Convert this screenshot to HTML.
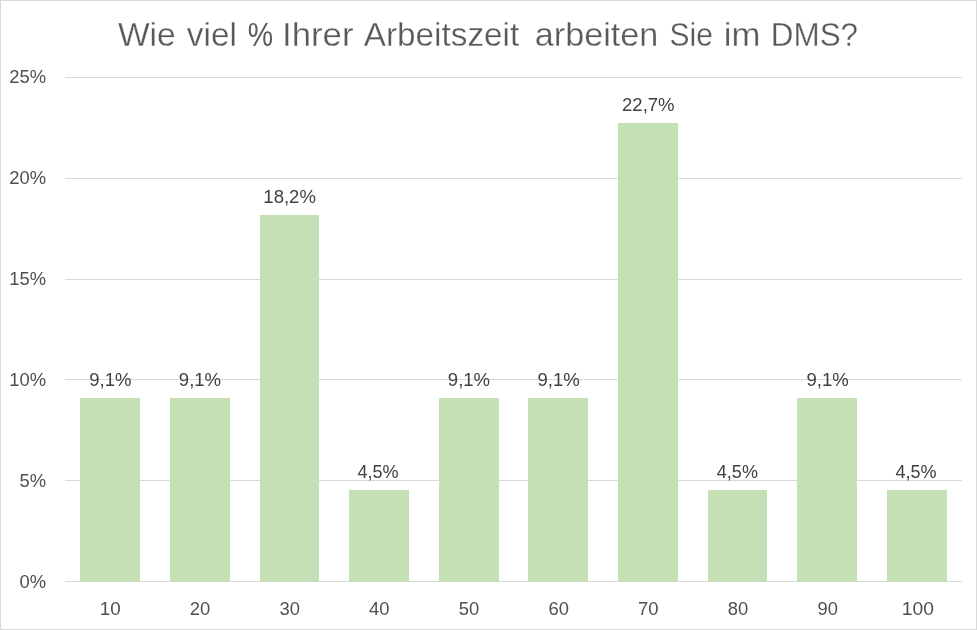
<!DOCTYPE html>
<html lang="de"><head><meta charset="utf-8"><title>Wie viel % Ihrer Arbeitszeit arbeiten Sie im DMS?</title>
<style>html,body{margin:0;padding:0;background:#fff;overflow:hidden}svg{display:block}text{font-family:"Liberation Sans",sans-serif}</style></head><body>
<svg width="977" height="630" viewBox="0 0 977 630">
<rect x="0" y="0" width="977" height="630" fill="#ffffff"/>
<g shape-rendering="crispEdges">
<rect x="65" y="77" width="897" height="1" fill="#d9d9d9"/>
<rect x="65" y="178" width="897" height="1" fill="#d9d9d9"/>
<rect x="65" y="279" width="897" height="1" fill="#d9d9d9"/>
<rect x="65" y="379" width="897" height="1" fill="#d9d9d9"/>
<rect x="65" y="480" width="897" height="1" fill="#d9d9d9"/>
<rect x="65" y="581" width="897" height="1" fill="#d9d9d9"/>
<rect x="80" y="398" width="60" height="183" fill="#c5e0b4"/>
<rect x="80" y="581" width="60" height="1" fill="#cadcbf"/>
<rect x="170" y="398" width="60" height="183" fill="#c5e0b4"/>
<rect x="170" y="581" width="60" height="1" fill="#cadcbf"/>
<rect x="260" y="215" width="59" height="366" fill="#c5e0b4"/>
<rect x="260" y="581" width="59" height="1" fill="#cadcbf"/>
<rect x="349" y="490" width="60" height="91" fill="#c5e0b4"/>
<rect x="349" y="581" width="60" height="1" fill="#cadcbf"/>
<rect x="439" y="398" width="60" height="183" fill="#c5e0b4"/>
<rect x="439" y="581" width="60" height="1" fill="#cadcbf"/>
<rect x="528" y="398" width="60" height="183" fill="#c5e0b4"/>
<rect x="528" y="581" width="60" height="1" fill="#cadcbf"/>
<rect x="618" y="123" width="60" height="458" fill="#c5e0b4"/>
<rect x="618" y="581" width="60" height="1" fill="#cadcbf"/>
<rect x="708" y="490" width="59" height="91" fill="#c5e0b4"/>
<rect x="708" y="581" width="59" height="1" fill="#cadcbf"/>
<rect x="797" y="398" width="60" height="183" fill="#c5e0b4"/>
<rect x="797" y="581" width="60" height="1" fill="#cadcbf"/>
<rect x="887" y="490" width="60" height="91" fill="#c5e0b4"/>
<rect x="887" y="581" width="60" height="1" fill="#cadcbf"/>
</g>
<text transform="translate(46.0,82.80) scale(1.045,1)" text-anchor="end" font-size="17.6" fill="#505050">25%</text>
<text transform="translate(46.0,183.80) scale(1.045,1)" text-anchor="end" font-size="17.6" fill="#505050">20%</text>
<text transform="translate(46.0,284.80) scale(1.045,1)" text-anchor="end" font-size="17.6" fill="#505050">15%</text>
<text transform="translate(46.0,385.80) scale(1.045,1)" text-anchor="end" font-size="17.6" fill="#505050">10%</text>
<text transform="translate(46.0,486.80) scale(1.045,1)" text-anchor="end" font-size="17.6" fill="#505050">5%</text>
<text transform="translate(46.0,587.80) scale(1.045,1)" text-anchor="end" font-size="17.6" fill="#505050">0%</text>
<text transform="translate(110.30,615.0) scale(1.07,1)" text-anchor="middle" font-size="17.6" fill="#505050">10</text>
<text transform="translate(199.97,615.0) scale(1.045,1)" text-anchor="middle" font-size="17.6" fill="#505050">20</text>
<text transform="translate(289.63,615.0) scale(1.045,1)" text-anchor="middle" font-size="17.6" fill="#505050">30</text>
<text transform="translate(379.30,615.0) scale(1.045,1)" text-anchor="middle" font-size="17.6" fill="#505050">40</text>
<text transform="translate(468.97,615.0) scale(1.045,1)" text-anchor="middle" font-size="17.6" fill="#505050">50</text>
<text transform="translate(558.63,615.0) scale(1.045,1)" text-anchor="middle" font-size="17.6" fill="#505050">60</text>
<text transform="translate(648.30,615.0) scale(1.045,1)" text-anchor="middle" font-size="17.6" fill="#505050">70</text>
<text transform="translate(737.97,615.0) scale(1.045,1)" text-anchor="middle" font-size="17.6" fill="#505050">80</text>
<text transform="translate(827.64,615.0) scale(1.045,1)" text-anchor="middle" font-size="17.6" fill="#505050">90</text>
<text transform="translate(917.80,615.0) scale(1.095,1)" text-anchor="middle" font-size="17.6" fill="#505050">100</text>
<text transform="translate(110.30,386.20) scale(1.03,1)" text-anchor="middle" font-size="18" fill="#404040">9,1%</text>
<text transform="translate(199.97,386.20) scale(1.03,1)" text-anchor="middle" font-size="18" fill="#404040">9,1%</text>
<text transform="translate(289.63,203.20) scale(1.03,1)" text-anchor="middle" font-size="18" fill="#404040">18,2%</text>
<text transform="translate(378.10,477.90) scale(1.0,1)" text-anchor="middle" font-size="18" fill="#404040">4,5%</text>
<text transform="translate(468.97,386.20) scale(1.03,1)" text-anchor="middle" font-size="18" fill="#404040">9,1%</text>
<text transform="translate(558.63,386.20) scale(1.03,1)" text-anchor="middle" font-size="18" fill="#404040">9,1%</text>
<text transform="translate(648.30,111.20) scale(1.03,1)" text-anchor="middle" font-size="18" fill="#404040">22,7%</text>
<text transform="translate(737.37,477.90) scale(1.0,1)" text-anchor="middle" font-size="18" fill="#404040">4,5%</text>
<text transform="translate(827.64,386.20) scale(1.03,1)" text-anchor="middle" font-size="18" fill="#404040">9,1%</text>
<text transform="translate(916.00,477.90) scale(1.0,1)" text-anchor="middle" font-size="18" fill="#404040">4,5%</text>
<text y="45.9" font-size="33.6" fill="#595959" stroke="#ffffff"><tspan x="117.90" textLength="57.90" lengthAdjust="spacingAndGlyphs" stroke-width="0.3">Wie</tspan> <tspan x="186.80" textLength="50.10" lengthAdjust="spacingAndGlyphs" stroke-width="0.3">viel</tspan> <tspan x="247.80" textLength="25.30" lengthAdjust="spacingAndGlyphs" stroke-width="0">%</tspan> <tspan x="282.00" textLength="71.50" lengthAdjust="spacingAndGlyphs" stroke-width="0.3">Ihrer</tspan> <tspan x="363.80" textLength="155.40" lengthAdjust="spacingAndGlyphs" stroke-width="0.3">Arbeitszeit</tspan> <tspan x="534.80" textLength="123.50" lengthAdjust="spacingAndGlyphs" stroke-width="0.3">arbeiten</tspan> <tspan x="669.60" textLength="43.40" lengthAdjust="spacingAndGlyphs" stroke-width="0.3">Sie</tspan> <tspan x="723.70" textLength="36.60" lengthAdjust="spacingAndGlyphs" stroke-width="0.3">im</tspan> <tspan x="770.80" textLength="87.30" lengthAdjust="spacingAndGlyphs" stroke-width="0.3">DMS?</tspan></text>
<g shape-rendering="crispEdges">
<rect x="0" y="0" width="977" height="1" fill="#d9d9d9"/>
<rect x="0" y="0" width="1" height="630" fill="#d9d9d9"/>
<rect x="976" y="0" width="1" height="630" fill="#d9d9d9"/>
<rect x="0" y="629" width="977" height="1" fill="#d9d9d9"/>
</g>
</svg></body></html>
